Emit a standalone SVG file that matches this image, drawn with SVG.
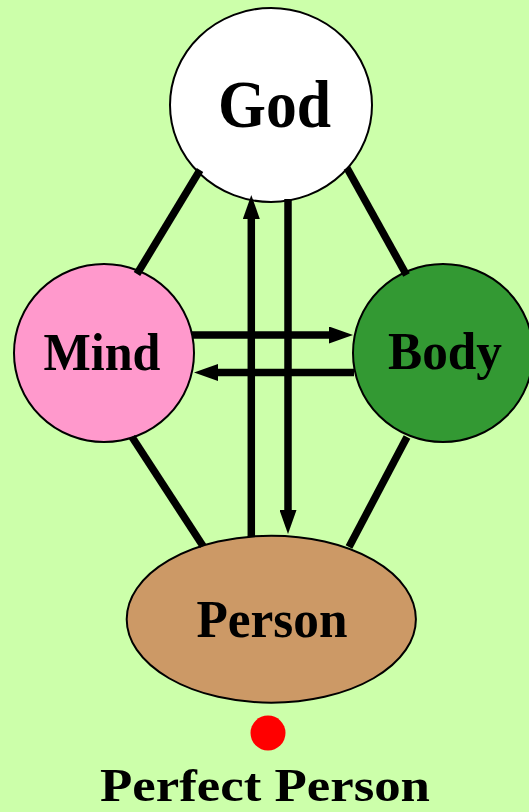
<svg xmlns="http://www.w3.org/2000/svg" width="529" height="812" viewBox="0 0 529 812">
<style>
.node{stroke:#000;stroke-width:2}
.lbl{font-family:"Liberation Serif","Times New Roman",serif;font-weight:bold;fill:#000;text-anchor:middle}
.conn{stroke:#000;stroke-width:7.5;fill:none}
</style>
<defs>
<marker id="ah" viewBox="0 0 24 17" refX="0" refY="8.5" markerWidth="24" markerHeight="17" markerUnits="userSpaceOnUse" orient="auto">
<path d="M0,0 L24,8.5 L0,17 z" fill="#000"/>
</marker>
</defs>
<rect x="0" y="0" width="529" height="812" fill="#CCFFAA"/>
<g id="god">
<ellipse class="node" cx="271" cy="105" rx="101" ry="97" fill="#FFFFFF"/>
<text class="lbl" x="274.5" y="127" font-size="68" textLength="113" lengthAdjust="spacingAndGlyphs">God</text>
</g>
<g id="mind">
<ellipse class="node" cx="104" cy="353" rx="90" ry="89" fill="#FF99CC"/>
<text class="lbl" x="102" y="370" font-size="52" textLength="117" lengthAdjust="spacingAndGlyphs">Mind</text>
</g>
<g id="body">
<ellipse class="node" cx="443" cy="353" rx="90" ry="89" fill="#339933"/>
<text class="lbl" x="445" y="369" font-size="52" textLength="114" lengthAdjust="spacingAndGlyphs">Body</text>
</g>
<g id="person">
<ellipse class="node" cx="271.3" cy="619.2" rx="144.6" ry="83.5" fill="#CC9966"/>
<text class="lbl" x="272" y="637" font-size="52" textLength="151" lengthAdjust="spacingAndGlyphs">Person</text>
</g>
<g id="perfect">
<circle cx="268" cy="733" r="17.5" fill="#FF0000"/>
<text class="lbl" x="265" y="801" font-size="46" textLength="330" lengthAdjust="spacingAndGlyphs">Perfect Person</text>
</g>
<g id="connectors">
<line class="conn" x1="200" y1="170" x2="137" y2="274"/>
<line class="conn" x1="347" y1="168" x2="406.5" y2="275"/>
<line class="conn" x1="132" y1="437" x2="203" y2="546"/>
<line class="conn" x1="407" y1="437" x2="349" y2="547"/>
<line class="conn" x1="251.3" y1="537" x2="251.3" y2="219" marker-end="url(#ah)"/>
<line class="conn" x1="288" y1="199" x2="288" y2="510" marker-end="url(#ah)"/>
<line class="conn" x1="192" y1="335" x2="329" y2="335" marker-end="url(#ah)"/>
<line class="conn" x1="354" y1="372.5" x2="218" y2="372.5" marker-end="url(#ah)"/>
</g>
</svg>
